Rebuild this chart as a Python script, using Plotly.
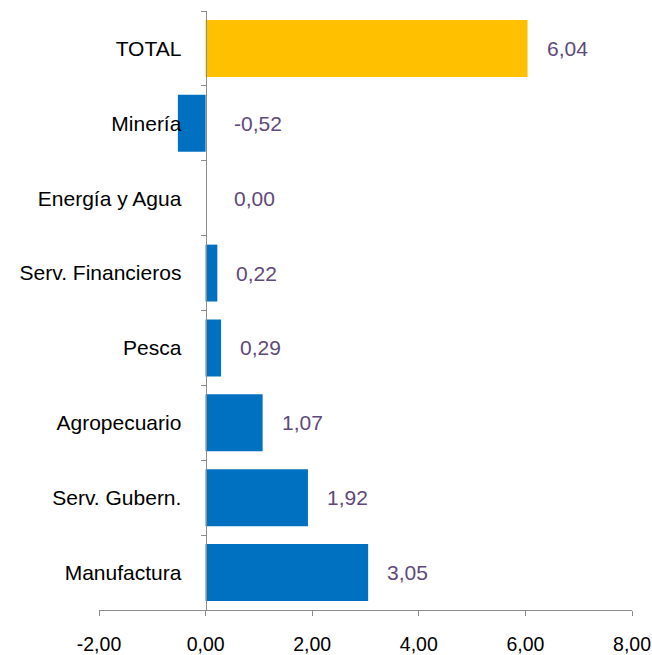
import plotly.graph_objects as go

categories = ["TOTAL", "Minería", "Energía y Agua", "Serv. Financieros", "Pesca",
              "Agropecuario", "Serv. Gubern.", "Manufactura"]
values = [6.04, -0.52, 0.00, 0.22, 0.29, 1.07, 1.92, 3.05]
value_labels = ["6,04", "-0,52", "0,00", "0,22", "0,29", "1,07", "1,92", "3,05"]
x_ticks = [-2, 0, 2, 4, 6, 8]
x_tick_labels = ["-2,00", "0,00", "2,00", "4,00", "6,00", "8,00"]

bar_colors = ["#FFC000" if c == "TOTAL" else "#0070C0" for c in categories]
FONT = "Liberation Sans, Arial, sans-serif"
FS = 21

fig = go.Figure()
fig.add_trace(go.Bar(
    x=values, y=categories, orientation="h",
    marker=dict(color=bar_colors, line=dict(width=0)),
    hoverinfo="skip",
))

for c, v, lab in zip(categories, values, value_labels):
    fig.add_annotation(
        x=max(v, 0), y=c, xref="x", yref="y", text=lab, showarrow=False,
        xanchor="left", yanchor="middle", xshift=17 if v > 0 else 26,
        font=dict(family=FONT, size=FS, color="#60497A"),
    )

fig.update_layout(
    width=652, height=655,
    margin=dict(l=99, r=20, t=11, b=45),
    plot_bgcolor="white", paper_bgcolor="white",
    bargap=0.24, showlegend=False,
    font=dict(family=FONT, size=FS, color="#000000"),
    xaxis=dict(
        range=[-2, 8], tickvals=x_ticks, ticktext=x_tick_labels,
        showgrid=False, zeroline=False, automargin=False,
        showline=True, linecolor="#8C8C8C", linewidth=1,
        ticks="outside", ticklen=5, tickcolor="#8C8C8C",
        ticklabelstandoff=12, ticklabeloverflow="allow",
        tickfont=dict(family=FONT, size=19.5, color="#000000"),
    ),
    yaxis=dict(
        autorange="reversed", anchor="free", position=0.2, automargin=False,
        showgrid=False, zeroline=False,
        showline=True, linecolor="#8C8C8C", linewidth=1,
        ticks="outside", ticklen=5, tickcolor="#8C8C8C", tickson="boundaries",
        ticklabelstandoff=20,
        tickfont=dict(family=FONT, size=FS, color="#000000"),
    ),
)

fig.write_html("out.html", config={"displayModeBar": False},
               post_script="document.body.style.margin='0';document.body.style.overflow='hidden';")
